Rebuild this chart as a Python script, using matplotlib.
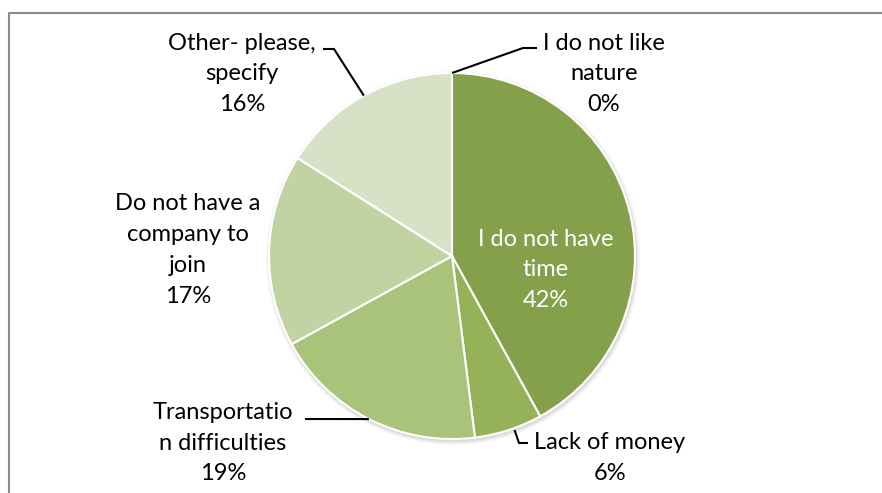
import numpy as np
import matplotlib.pyplot as plt
from matplotlib.patches import Circle

# dados da pizza (em %), fatias no sentido horário a partir do topo
categorias = ['I do not like\nnature', 'I do not have\ntime', 'Lack of money',
              'Transportatio\nn difficulties', 'Do not have a\ncompany to\njoin',
              'Other- please,\nspecify']
valores = [0, 42, 6, 19, 17, 16]
cores = ['#7e9a44', '#84a04b', '#95b258', '#a9c37a', '#c2d3a3', '#d7e1c6']

W, H = 882, 493
fig = plt.figure(figsize=(W / 100, H / 100), dpi=100)
ax = fig.add_axes([0, 0, 1, 1])

plt.rcParams['font.family'] = ['Lato', 'DejaVu Sans']

cx, cy, r = 452, H - 256, 183

# sombra leve
for k, a in [(4, 0.08), (2.5, 0.12), (1.2, 0.18)]:
    ax.add_patch(Circle((cx + 1, cy - 2), r + k, color='#9a9a9a', alpha=a, lw=0, zorder=1))

wedges, _ = ax.pie(valores, colors=cores, startangle=90, counterclock=False,
                   center=(cx, cy), radius=r, frame=True,
                   wedgeprops=dict(edgecolor='white', linewidth=1.5))
for w in wedges:
    w.set_zorder(2)
ax.set_xlim(0, W)
ax.set_ylim(0, H)
ax.set_aspect('equal')
ax.axis('off')

# ângulo médio de cada fatia
fracs = np.array(valores) / sum(valores)
acum = np.concatenate([[0], np.cumsum(fracs)])
meio = 90 - 360 * (acum[:-1] + fracs / 2)

def borda(i):
    t = np.deg2rad(meio[i])
    return cx + r * np.cos(t), cy + r * np.sin(t)

fs = 17
# posições dos rótulos (pixels, y a partir do topo)
pos = [(604, 74), (546, 270), (610, 458), (223, 443), (188, 250), (242, 74)]
for i, (lab, v) in enumerate(zip(categorias, valores)):
    x, y = pos[i]
    cor = 'white' if i == 1 else 'black'
    ax.text(x, H - y, f'{lab}\n{v}%', ha='center', va='center', multialignment='center',
            fontsize=fs, color=cor, linespacing=1.57, zorder=5)

# linhas de chamada
lk = dict(color='black', lw=1.5, zorder=4, solid_capstyle='butt')
bx, by = borda(0)
ax.plot([bx, 523, 537], [by, H - 48, H - 48], **lk)
bx, by = borda(2)
ax.plot([bx + 6, 519, 528], [by, H - 443, H - 443], **lk)
bx, by = borda(3)
ax.plot([bx, 305], [by, H - 419], **lk)
bx, by = borda(5)
ax.plot([bx, 334, 323], [by, H - 49, H - 49], **lk)

# moldura cinza
ax.plot([9, 9, W + 5], [-5, H - 13, H - 13], color='#8a8a8a', lw=1.5, zorder=6)

fig.savefig('out.png', dpi=100)
